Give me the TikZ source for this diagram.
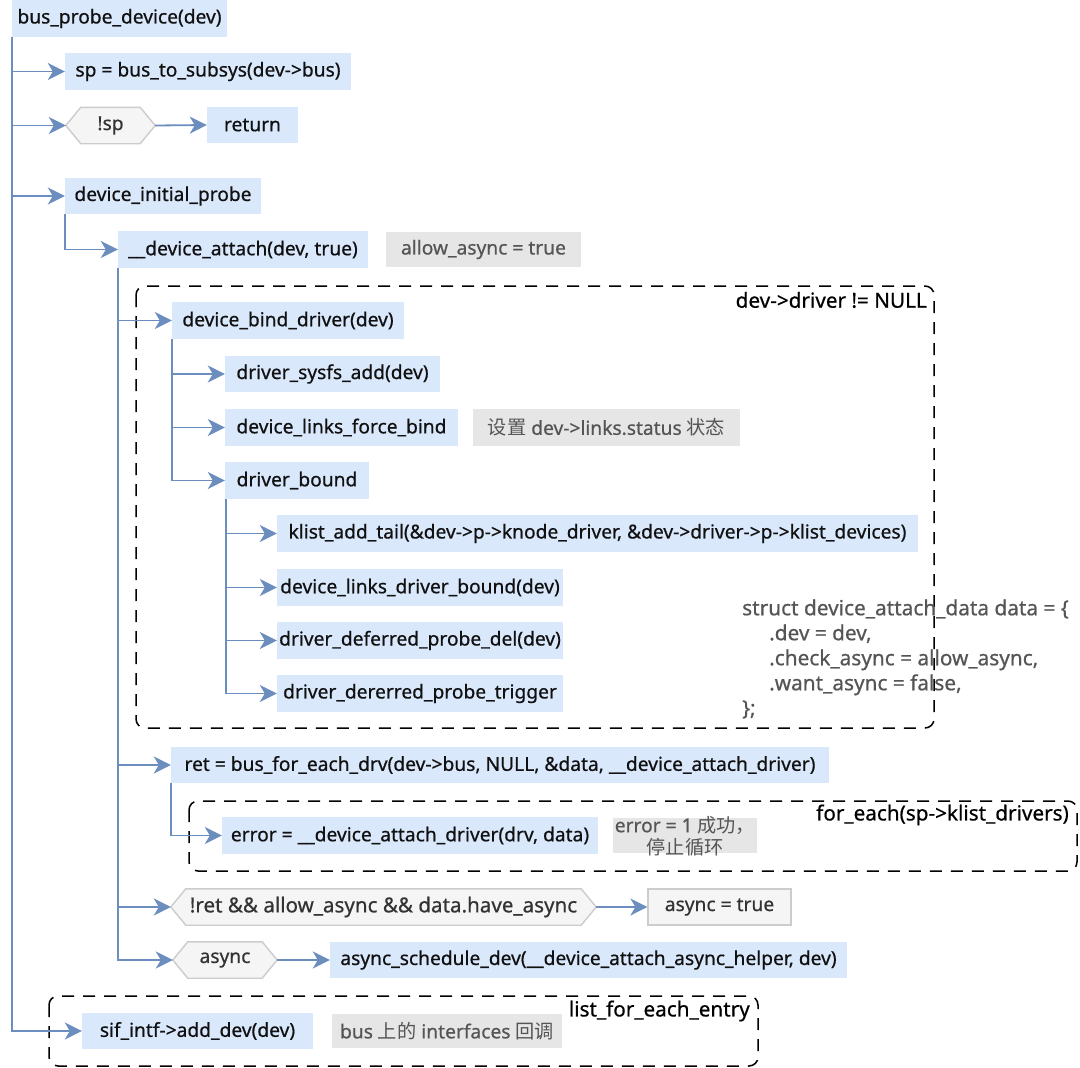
\documentclass[tikz,border=0pt]{standalone}
\usepackage{fontspec}
\setmainfont{Noto Sans}[FakeBold=0.6]
\newfontfamily\cjk{Noto Sans CJK SC}
\usetikzlibrary{arrows.meta,backgrounds}
\definecolor{bfill}{HTML}{DAE8FC}
\definecolor{conn}{HTML}{6C8EBF}
\definecolor{nfill}{HTML}{E6E6E6}
\definecolor{hfill}{HTML}{F5F5F5}
\definecolor{hline}{HTML}{CCCCCC}
\definecolor{ntext}{HTML}{555555}
\definecolor{mtext}{HTML}{111111}
\tikzset{bigtip/.tip={Stealth[length=17pt,width=17pt,inset=5pt]}}
\begin{document}
\begin{tikzpicture}[x=1pt,y=-1pt,
  every node/.style={font=\fontsize{19.2}{23}\selectfont, inner sep=0pt, text=mtext},
  bbox/.style={fill=bfill, minimum height=37pt},
  nbox/.style={fill=nfill, text=ntext, minimum height=35pt},
  gbox/.style={fill=hfill, draw=hline, line width=1.2pt, text=black!80, minimum height=36pt},
  hexn/.style={minimum height=36pt, text=black!80},
  hexs/.style={fill=hfill, draw=hline, line width=1.4pt},
  cn/.style={draw=conn, fill=none, line width=1.8pt, arrows={-bigtip}},
  dsh/.style={draw=black, line width=1.5pt, dash pattern=on 12pt off 9pt, rounded corners=9pt},
  lbl/.style={anchor=east, text=black, font=\fontsize{20.7}{24}\selectfont}]
\useasboundingbox (0,0) rectangle (1080,1068);

% dashed groups
\draw[dsh] (136,286) rectangle (934,728);
\draw[dsh] (189,801) rectangle (1077,871);
\draw[dsh] (49,996) rectangle (758,1066);
\node[lbl] (l1) at (927,300) {dev->driver != NULL};
\node[lbl] (l2) at (1069,815) {for\_each(sp->klist\_drivers)};
\node[lbl] (l3) at (750,1011) {list\_for\_each\_entry};

% nodes
\node[bbox, minimum width=215pt] (b1) at (119.5,18.5) {bus\_probe\_device(dev)};
\node[bbox, minimum width=286pt] (b2) at (208,71.5) {sp = bus\_to\_subsys(dev->bus)};
\node[hexn, minimum width=89pt] (h1) at (110.5,125.5) {!sp};
\node[bbox, minimum width=91pt, minimum height=36pt] (r1) at (252.5,125) {return};
\node[bbox, minimum width=196pt, minimum height=36pt] (b5) at (163,196) {device\_initial\_probe};
\node[bbox, minimum width=250pt] (b6) at (243,249.5) {\_\_device\_attach(dev, true)};
\node[nbox, minimum width=195pt] (n7) at (483.5,249.5) {allow\_async = true};
\node[bbox, minimum width=232pt] (b9) at (288,320.5) {device\_bind\_driver(dev)};
\node[bbox, minimum width=215pt, minimum height=36pt] (b10) at (332.5,374) {driver\_sysfs\_add(dev)};
\node[bbox, minimum width=233pt] (b11) at (341.5,427.5) {device\_links\_force\_bind};
\node[nbox, minimum width=267pt, minimum height=37pt] (n12) at (606.5,427.5) {{\cjk 设置} dev->links.status {\cjk 状态}};
\node[bbox, minimum width=144pt] (b13) at (297,480.5) {driver\_bound};
\node[bbox, minimum width=641pt] (b14) at (597.5,533.5) {klist\_add\_tail(\&dev->p->knode\_driver, \&dev->driver->p->klist\_devices)};
\node[bbox, minimum width=286pt] (b15) at (420,587.5) {device\_links\_driver\_bound(dev)};
\node[bbox, minimum width=286pt] (b16) at (420,640.5) {driver\_deferred\_probe\_del(dev)};
\node[bbox, minimum width=286pt] (b17) at (420,693.5) {driver\_dererred\_probe\_trigger};
\node[anchor=west, align=left, text=ntext, font=\fontsize{20.8}{25}\selectfont] (st) at (742,659)
  {struct device\_attach\_data data = \{\\
   \hspace*{27pt}.dev = dev,\\
   \hspace*{27pt}.check\_async = allow\_async,\\
   \hspace*{27pt}.want\_async = false,\\
   \};};
\node[bbox, minimum width=658pt, minimum height=36pt] (b19) at (500,765) {ret = bus\_for\_each\_drv(dev->bus, NULL, \&data, \_\_device\_attach\_driver)};
\node[bbox, minimum width=376pt] (b20) at (410,835.5) {error = \_\_device\_attach\_driver(drv, data)};
\node[nbox, minimum width=144pt] (n21) at (685,835.5) {};
\node[align=center, text=ntext, font=\fontsize{19.2}{22}\selectfont] (n21t) at (685,836) {error = 1 {\cjk 成功，}\\{\cjk 停止循环}};
\node[hexn, minimum width=425pt, font=\fontsize{20.6}{24}\selectfont] (h2) at (383.5,907) {!ret \&\& allow\_async \&\& data.have\_async};
\node[gbox, minimum width=143pt] (b23) at (719.5,907) {async = true};
\node[hexn, minimum width=104pt] (h3) at (225,960) {async};
\node[bbox, minimum width=517pt, minimum height=36pt] (b25) at (588.5,960) {async\_schedule\_dev(\_\_device\_attach\_async\_helper, dev)};
\node[bbox, minimum width=231pt, minimum height=36pt] (b26) at (197.5,1031) {sif\_intf->add\_dev(dev)};
\node[nbox, minimum width=230pt, minimum height=34pt] (n27) at (447,1031) {bus {\cjk 上的} interfaces {\cjk 回调}};

% white page and hexagon outlines behind everything
\begin{scope}[on background layer]
\fill[white] (0,0) rectangle (1080,1068);
\foreach \h in {h1,h2,h3}{
  \draw[hexs] ([xshift=15pt]\h.north west) -- ([xshift=-15pt]\h.north east) -- (\h.east)
    -- ([xshift=-15pt]\h.south east) -- ([xshift=15pt]\h.south west) -- (\h.west) -- cycle;
}
\end{scope}

% connectors
\draw[cn] (b1.south west) |- (b2.west);
\draw[cn] (b1.south west) |- (h1.west);
\draw[cn] (b1.south west) |- (b5.west);
\draw[cn] (b1.south west) |- (b26.west);
\draw[cn] (h1.east) -- (r1.west);
\draw[cn] (b5.south west) |- (b6.west);
\draw[cn] (b6.south west) |- (b9.west);
\draw[cn] (b6.south west) |- (b19.west);
\draw[cn] (b6.south west) |- (h2.west);
\draw[cn] (b6.south west) |- (h3.west);
\draw[cn] (b9.south west) |- (b10.west);
\draw[cn] (b9.south west) |- (b11.west);
\draw[cn] (b9.south west) |- (b13.west);
\draw[cn] ([xshift=1pt]b13.south west) |- (b14.west);
\draw[cn] ([xshift=1pt]b13.south west) |- (b15.west);
\draw[cn] ([xshift=1pt]b13.south west) |- (b16.west);
\draw[cn] ([xshift=1pt]b13.south west) |- (b17.west);
\draw[cn] (b19.south west) |- (b20.west);
\draw[cn] (h2.east) -- (b23.west);
\draw[cn] (h3.east) -- (b25.west);
\end{tikzpicture}
\end{document}
